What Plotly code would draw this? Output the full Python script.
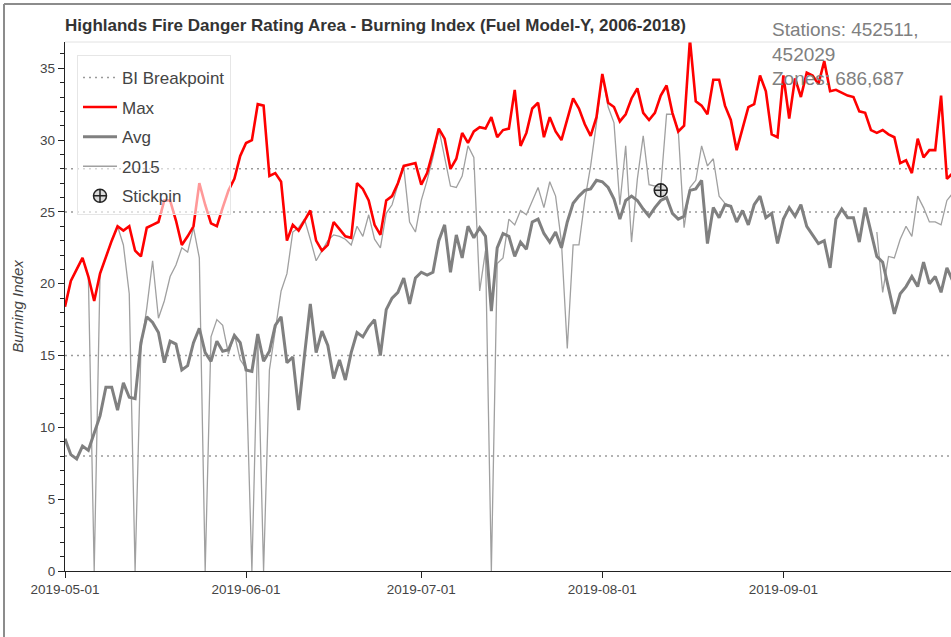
import pandas as pd
import plotly.graph_objects as go

start_date = "2019-05-01"
n_days = 153
dates = pd.date_range(start_date, periods=n_days, freq="D")

max_bi = [
    18.4, 20.2, 21.0, 21.8, 20.5, 18.8, 20.7, 21.9, 23.0, 24.0,
    23.7, 24.0, 22.3, 21.9, 23.9, 24.1, 24.3, 25.8, 25.8, 24.4,
    22.7, 23.3, 24.0, 27.0, 25.5, 24.2, 24.0, 25.3, 26.5, 27.3,
    28.9, 29.8, 30.0, 32.5, 32.4, 27.5, 27.7, 27.1, 23.0, 24.1,
    23.7, 24.4, 25.1, 23.0, 22.3, 22.7, 24.3, 23.8, 23.3, 23.2,
    27.0, 26.6, 25.8, 24.1, 23.4, 25.8, 26.1, 27.0, 28.2, 28.3,
    28.4, 26.9, 27.7, 29.2, 30.8, 30.1, 28.0, 28.7, 30.5, 29.8,
    30.6, 30.9, 30.8, 31.6, 30.2, 30.7, 30.8, 33.5, 29.6, 30.5,
    32.2, 32.6, 30.2, 31.6, 30.6, 30.0, 31.5, 32.9, 32.2, 31.1,
    30.3, 31.6, 34.6, 32.6, 32.3, 31.3, 31.8, 32.9, 33.6, 31.9,
    31.4, 31.9, 33.1, 33.8, 31.9, 30.6, 31.0, 37.0, 32.7, 32.4,
    31.8, 34.2, 34.2, 32.4, 31.4, 29.3, 30.8, 32.3, 32.5, 34.5,
    33.4, 30.4, 30.2, 34.5, 31.5, 34.3, 33.0, 34.7, 34.5, 33.9,
    35.5, 33.4, 33.5, 33.3, 33.1, 33.0, 32.0, 31.9, 30.7, 30.5,
    30.7, 30.4, 30.2, 28.4, 28.6, 27.7, 30.1, 28.8, 29.3, 29.3,
    33.1, 27.3, 27.7,
]

avg_bi = [
    9.2, 8.1, 7.8, 8.7, 8.4, 9.6, 10.8, 12.8, 12.8, 11.2,
    13.1, 12.1, 12.0, 15.9, 17.7, 17.3, 16.6, 14.5, 16.0, 15.8,
    14.0, 14.3, 15.9, 16.9, 15.2, 14.6, 16.0, 15.3, 15.4, 16.4,
    15.9, 14.0, 13.9, 16.5, 14.6, 15.3, 17.1, 17.7, 14.5, 14.9,
    11.2, 15.0, 18.6, 15.2, 16.7, 15.7, 13.4, 14.7, 13.3, 15.2,
    16.6, 16.3, 17.0, 17.5, 15.0, 18.2, 19.0, 19.4, 20.4, 18.6,
    20.4, 20.8, 20.6, 20.8, 23.0, 24.1, 20.8, 23.4, 21.8, 24.0,
    23.2, 23.9, 23.3, 18.1, 22.5, 23.5, 23.3, 21.9, 22.9, 22.4,
    24.3, 24.5, 23.5, 22.9, 23.6, 22.5, 24.3, 25.6, 26.1, 26.5,
    26.6, 27.2, 27.1, 26.7, 25.9, 24.5, 25.8, 26.1, 25.8, 25.2,
    24.7, 25.3, 25.8, 26.0, 24.9, 24.5, 24.7, 26.5, 26.6, 27.2,
    22.8, 25.3, 24.6, 25.5, 25.4, 24.3, 25.1, 24.1, 25.5, 26.1,
    24.6, 24.9, 22.8, 24.5, 25.3, 24.7, 25.5, 24.0, 23.4, 22.8,
    23.0, 21.1, 24.5, 25.2, 24.6, 24.6, 22.9, 25.3, 23.6, 21.9,
    21.5, 19.8, 17.9, 19.3, 19.8, 20.5, 19.8, 21.5, 20.0, 20.5,
    19.4, 21.1, 20.2,
]

year_2015 = [
    18.4, 20.2, 21.0, 21.8, 20.5, 0.0, 20.7, 21.9, 23.0, 24.0,
    22.7, 19.3, 0.0, 15.5, 18.3, 21.6, 17.6, 18.8, 20.5, 21.3,
    22.5, 22.2, 23.9, 21.8, 0.0, 16.3, 17.5, 17.1, 15.1, 16.5,
    14.7, 14.1, 0.0, 16.5, 0.0, 14.0, 16.6, 19.5, 20.7, 23.6,
    23.9, 24.5, 23.1, 21.6, 22.3, 23.0, 23.4, 23.3, 23.1, 22.7,
    24.0, 23.3, 24.8, 23.1, 22.5, 24.9, 25.5, 26.9, 28.1, 24.3,
    23.6, 25.8, 27.2, 28.8, 30.8, 28.7, 26.8, 26.7, 27.5, 29.6,
    28.8, 19.5, 22.3, 0.0, 21.4, 21.8, 24.5, 24.1, 25.1, 24.8,
    25.7, 26.7, 25.3, 27.1, 26.1, 22.9, 15.5, 22.7, 22.7, 25.8,
    28.2, 31.2, 34.6, 32.3, 31.2, 25.5, 29.6, 22.9, 27.3, 30.3,
    26.9, 26.8, 26.7, 31.8, 31.8, 30.7, 23.9, 26.7, 27.2, 29.6,
    28.2, 28.7, 26.1, 25.6, 25.4, None, None, None, None, None,
    None, None, None, None, None, None, None, None, None, None,
    None, None, None, None, None, None, None, None, None, 23.6,
    19.4, 21.9, 21.8, 23.1, 24.0, 23.3, 26.1, 25.3, 24.3, 24.3,
    24.1, 25.8, 26.3,
]

breakpoints = [28, 25, 15, 8]

stickpin_date = ["2019-08-11"]
stickpin_value = [26.5]

title_text = "Highlands Fire Danger Rating Area - Burning Index (Fuel Model-Y, 2006-2018)"
info_text = "Stations: 452511,<br>452029<br>Zones: 686,687"

# breakpoint lines spanning the full series
bp_x, bp_y = [], []
for b in breakpoints:
    bp_x += [dates[0], dates[-1], None]
    bp_y += [b, b, None]

fig = go.Figure()
fig.add_trace(go.Scatter(
    x=bp_x, y=bp_y, mode="lines", name="BI Breakpoint",
    line=dict(color="#9a9a9a", width=1.5, dash="2px,4px"),
    legendrank=1, legendgroup="g1", hoverinfo="skip"))
fig.add_trace(go.Scatter(
    x=dates, y=year_2015, mode="lines", name="2015",
    line=dict(color="#a0a0a0", width=1.3),
    legendrank=4, legendgroup="g4"))
fig.add_trace(go.Scatter(
    x=dates, y=avg_bi, mode="lines", name="Avg",
    line=dict(color="#808080", width=3),
    legendrank=3, legendgroup="g3"))
fig.add_trace(go.Scatter(
    x=dates, y=max_bi, mode="lines", name="Max",
    line=dict(color="#ff0000", width=2.6),
    legendrank=2, legendgroup="g2"))
fig.add_trace(go.Scatter(
    x=stickpin_date, y=stickpin_value, mode="markers", name="Stickpin",
    marker=dict(symbol="circle-cross", size=13, color="rgba(150,150,150,0.35)",
                line=dict(color="#222222", width=1.5)),
    legendrank=5, legendgroup="g5"))

W, H = 951, 637
L, R, T, B = 65, 0, 42, 66
pw, ph = W - L - R, H - T - B


def px_x(p):
    return (p - L) / pw


def px_y(p):
    return (H - B - p) / ph


fig.update_layout(
    width=W, height=H,
    margin=dict(l=L, r=R, t=T, b=B, pad=0),
    paper_bgcolor="white", plot_bgcolor="white",
    font=dict(family="Liberation Sans, Arial, sans-serif", color="#444444"),
    title=dict(text=title_text, x=65 / W, xref="container", xanchor="left",
               y=1 - 25 / H, yref="container", yanchor="middle",
               font=dict(size=17, color="#333333", weight="bold")),
    showlegend=True,
    legend=dict(x=px_x(77), y=px_y(55), xanchor="left", yanchor="top",
                bgcolor="rgba(255,255,255,0.6)", bordercolor="#e6e6e6",
                borderwidth=1, font=dict(size=17, color="#444444"),
                tracegroupgap=4.5, itemwidth=34,
                title=dict(text=" ", font=dict(size=3))),
    annotations=[dict(text=info_text, xref="paper", yref="paper",
                      x=px_x(770), y=px_y(17), xanchor="left", yanchor="top",
                      align="left", showarrow=False,
                      font=dict(size=19, color="#808080"))],
    shapes=[
        dict(type="line", xref="paper", yref="paper", x0=px_x(4), x1=1.0,
             y0=px_y(4), y1=px_y(4), line=dict(color="#8c8c8c", width=2)),
        dict(type="line", xref="paper", yref="paper", x0=px_x(4), x1=px_x(4),
             y0=px_y(4), y1=px_y(H), line=dict(color="#8c8c8c", width=2)),
        dict(type="line", xref="paper", yref="paper", x0=0, x1=1,
             y0=1, y1=1, line=dict(color="#e2e2e2", width=1)),
    ],
)

fig.update_xaxes(
    type="date",
    range=["2019-05-01", "2019-09-29 16:48"],
    tick0="2019-05-01", dtick="M1", tickformat="%Y-%m-%d",
    showgrid=False, zeroline=False,
    showline=True, linecolor="#222222", linewidth=1.3,
    ticks="outside", ticklen=6, tickcolor="#222222", tickwidth=1.3,
    tickfont=dict(size=13.5, color="#444444"),
)
fig.update_yaxes(
    range=[0, 36.83],
    tick0=0, dtick=5,
    showgrid=False, zeroline=False,
    showline=True, linecolor="#222222", linewidth=1.3,
    ticks="outside", ticklen=6, tickcolor="#222222", tickwidth=1.3,
    tickfont=dict(size=13.5, color="#444444"),
    minor=dict(dtick=1, ticks="outside", ticklen=4, tickcolor="#222222", tickwidth=1),
    title=dict(text="Burning Index", standoff=12,
               font=dict(size=15, color="#444444", style="italic")),
)

fig.write_html("out.html", config={"displayModeBar": False},
               post_script="document.body.style.margin='0px';")
